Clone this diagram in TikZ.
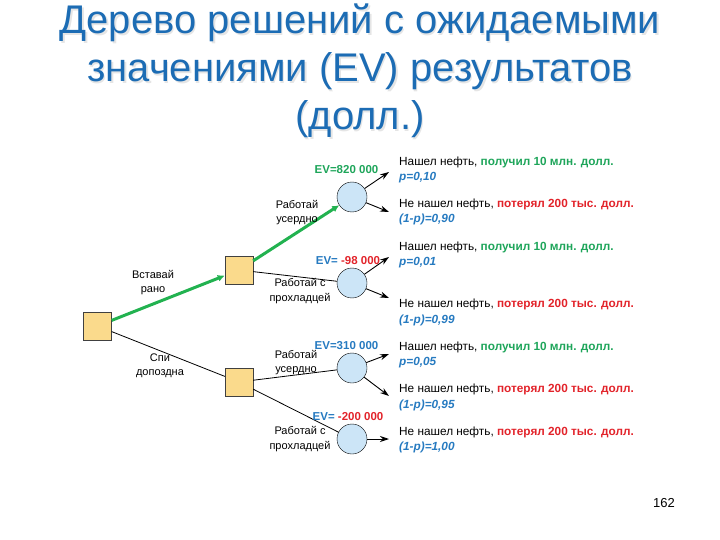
\documentclass[tikz,border=0pt]{standalone}
\usepackage{fontspec}
\setmainfont{Liberation Sans}
\usetikzlibrary{arrows.meta}
\definecolor{titleblue}{RGB}{28,108,180}
\definecolor{sqfill}{RGB}{250,218,140}
\definecolor{cfill}{RGB}{204,229,247}
\definecolor{okgreen}{RGB}{30,165,90}
\definecolor{linegreen}{RGB}{34,178,80}
\definecolor{badred}{RGB}{226,35,42}
\definecolor{pblue}{RGB}{38,122,192}
\tikzset{
  decision/.style={draw=black!75, fill=sqfill, minimum width=28, minimum height=28, inner sep=0},
  chance/.style={circle, draw=black, fill=cfill, minimum size=30, inner sep=0},
  best/.style={draw=linegreen, line width=3, -{Latex[length=7,width=7]}},
  branch/.style={draw=black, line width=0.8},
  outarrow/.style={draw=black, line width=0.9, -{Stealth[length=9,width=6]}},
  lbl/.style={font=\fontsize{11}{14.5}\selectfont, align=center, inner sep=0},
  res/.style={font=\fontsize{11.8}{15.5}\selectfont, align=left, anchor=west, inner sep=0},
  ev/.style={font=\bfseries\fontsize{11.5}{13}\selectfont, inner sep=0},
}
\newcommand{\found}[1]{Нашел нефть, {\bfseries\color{okgreen}получил 10 млн. долл.}\\{\bfseries\itshape\color{pblue}#1}}
\newcommand{\notfound}[1]{Не нашел нефть, {\bfseries\color{badred}потерял 200 тыс. долл.}\\{\bfseries\itshape\color{pblue}#1}}
\begin{document}
\begin{tikzpicture}[x=1pt,y=-1pt]
\useasboundingbox (0,0) rectangle (720,540);
% title
\node[text=gray!20, font=\fontsize{40}{48}\selectfont, align=center] at (361.5,72.5)
  {Дерево решений с ожидаемыми\\значениями (EV) результатов\\(долл.)};
\node[text=titleblue, font=\fontsize{40}{48}\selectfont, align=center] (title) at (360,71)
  {Дерево решений с ожидаемыми\\значениями (EV) результатов\\(долл.)};
% decision nodes
\node[decision] (root) at (97.5,326) {};
\node[decision] (up) at (239,270) {};
\node[decision] (lo) at (239,382) {};
% chance nodes
\node[chance] (c1) at (352,197) {};
\node[chance] (c2) at (352,283) {};
\node[chance] (c3) at (352,368) {};
\node[chance] (c4) at (352,439) {};
% decision branches
\draw[best] (root) -- (up);
\draw[best] (up) -- (c1);
\draw[branch] (root) -- (lo);
\draw[branch] (up) -- (c2);
\draw[branch] (lo) -- (c3);
\draw[branch] (lo) -- (c4);
% outcome arrow ends
\coordinate (e1a) at (389,172);
\coordinate (e1b) at (389,212);
\coordinate (e2a) at (389,257);
\coordinate (e2b) at (389,298);
\coordinate (e3a) at (389,354);
\coordinate (e3b) at (389,396);
\coordinate (e4a) at (389,439);
\draw[outarrow] (c1) -- (e1a);
\draw[outarrow] (c1) -- (e1b);
\draw[outarrow] (c2) -- (e2a);
\draw[outarrow] (c2) -- (e2b);
\draw[outarrow] (c3) -- (e3a);
\draw[outarrow] (c3) -- (e3b);
\draw[outarrow] (c4) -- (e4a);
% branch labels
\node[lbl] (l1) at (153,282.5) {Вставай\\рано};
\node[lbl] (l2) at (160,366) {Спи\\допоздна};
\node[lbl] (l3) at (297,212.5) {Работай\\усердно};
\node[lbl] (l4) at (300,291) {Работай с\\прохладцей};
\node[lbl] (l5) at (296,362.5) {Работай\\усердно};
\node[lbl] (l6) at (300,439) {Работай с\\прохладцей};
% EV labels
\node[ev, text=okgreen] (ev1) at (346.5,170) {EV=820 000};
\node[ev] (ev2) at (348,261) {\color{pblue}EV= \color{badred}-98 000};
\node[ev, text=pblue] (ev3) at (346.5,346) {EV=310 000};
\node[ev] (ev4) at (348,417) {\color{pblue}EV= \color{badred}-200 000};
% results
\node[res] (r1) at (399,170) {\found{p=0,10}};
\node[res] (r2) at (399,212) {\notfound{(1-p)=0,90}};
\node[res] (r3) at (399,255) {\found{p=0,01}};
\node[res] (r4) at (399,312.5) {\notfound{(1-p)=0,99}};
\node[res] (r5) at (399,355) {\found{p=0,05}};
\node[res] (r6) at (399,397.5) {\notfound{(1-p)=0,95}};
\node[res] (r7) at (399,440) {\notfound{(1-p)=1,00}};
% page number
\node[font=\fontsize{13}{15}\selectfont, inner sep=0] (pg) at (664,503) {162};
\end{tikzpicture}
\end{document}
